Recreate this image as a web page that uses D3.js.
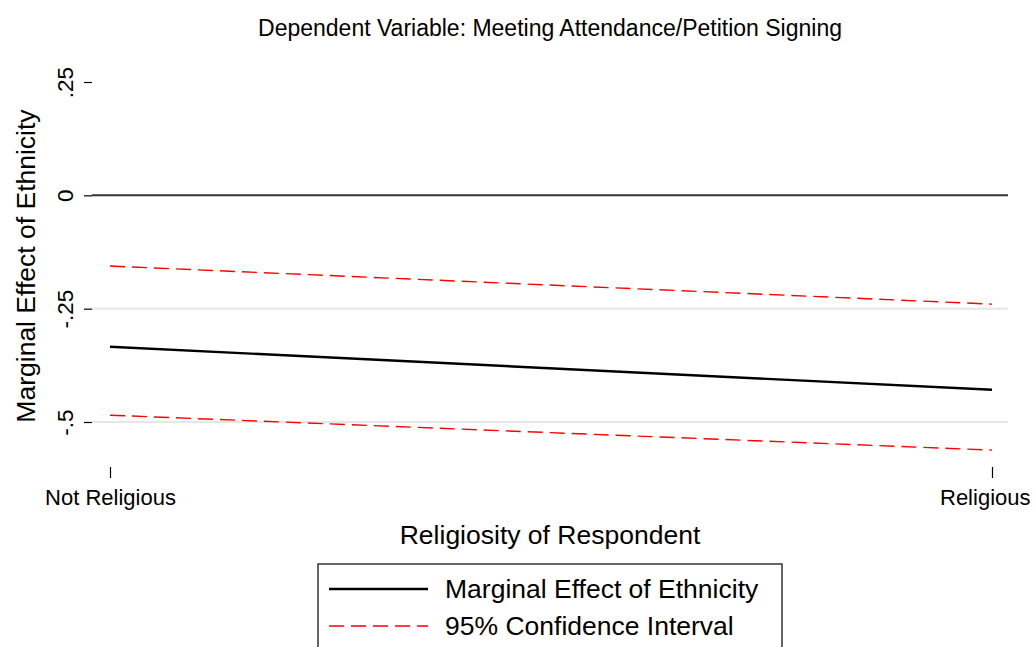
<!DOCTYPE html>
<html>
<head>
<meta charset="utf-8">
<script src="https://cdn.jsdelivr.net/npm/d3@7"></script>
<style>
html,body{margin:0;padding:0;background:#fff;}
svg{display:block;font-family:"Liberation Sans",Arial,Helvetica,sans-serif;}
</style>
</head>
<body>
<svg id="chart" width="1036" height="647"></svg>
<script>
const titleText = "Dependent Variable: Meeting Attendance/Petition Signing";
const xTitle = "Religiosity of Respondent";
const yTitle = "Marginal Effect of Ethnicity";
const categories = ["Not Religious", "Religious"];
const xValues = [0, 1];
const effect = [-0.334, -0.429];
const ciUpper = [-0.156, -0.240];
const ciLower = [-0.485, -0.562];
const yTickValues = [0.25, 0, -0.25, -0.5];
const yTickLabels = [".25", "0", "-.25", "-.5"];
const gridValues = [-0.25, -0.5];
const legendLabels = ["Marginal Effect of Ethnicity", "95% Confidence Interval"];

const svg = d3.select("#chart");
const W = 1036;
const plotLeft = 92, plotRight = 1008;
const x = d3.scaleLinear().domain([0, 1]).range([110, 992]);
const y = d3.scaleLinear().domain([-0.5, 0.25]).range([422, 82]);

// title
svg.append("text").attr("x", 550).attr("y", 36).attr("text-anchor", "middle")
  .attr("font-size", 23).attr("fill", "#000").text(titleText);

// gridlines
svg.selectAll(".grid").data(gridValues).enter().append("line")
  .attr("x1", plotLeft).attr("x2", plotRight)
  .attr("y1", d => y(d)).attr("y2", d => y(d))
  .attr("stroke", "#e6e6e6").attr("stroke-width", 2);

// zero reference line
svg.append("line").attr("x1", plotLeft).attr("x2", plotRight)
  .attr("y1", y(0)).attr("y2", y(0)).attr("stroke", "#333").attr("stroke-width", 2);

// y axis ticks
const yAxis = d3.axisLeft(y).tickValues(yTickValues).tickSize(8)
  .tickFormat((d, i) => yTickLabels[i]);
const gy = svg.append("g").attr("transform", `translate(${plotLeft},0)`).call(yAxis);
gy.select(".domain").remove();
gy.selectAll(".tick line").attr("stroke", "#000").attr("stroke-width", 1.2);
gy.selectAll(".tick text")
  .attr("font-size", 22.5).attr("font-family", "Liberation Sans, Arial, sans-serif")
  .attr("fill", "#000")
  .attr("x", null).attr("dy", null)
  .attr("text-anchor", "middle")
  .attr("transform", "translate(-19,0) rotate(-90)");

// x axis ticks
const xAxis = d3.axisBottom(x).tickValues(xValues).tickSize(11)
  .tickFormat((d, i) => categories[i]);
const gx = svg.append("g").attr("transform", "translate(0,467)").call(xAxis);
gx.select(".domain").remove();
gx.selectAll(".tick line").attr("stroke", "#000").attr("stroke-width", 1.2);
gx.selectAll(".tick text").attr("font-size", 22)
  .attr("font-family", "Liberation Sans, Arial, sans-serif")
  .attr("fill", "#000").attr("dy", null).attr("y", 38)
  .each(function (d) {
    // keep the label inside the picture, as in the reference
    const len = this.getComputedTextLength();
    const cx = x(d);
    const maxRight = W - 6;
    if (cx + len / 2 > maxRight) {
      d3.select(this).attr("x", maxRight - len / 2 - cx);
    }
  });

// axis titles
svg.append("text").attr("x", 550).attr("y", 544).attr("text-anchor", "middle")
  .attr("font-size", 26.5).attr("fill", "#000").text(xTitle);
svg.append("text").attr("transform", "translate(35,266) rotate(-90)")
  .attr("text-anchor", "middle").attr("font-size", 26.5).attr("fill", "#000").text(yTitle);

// lines
const line = d3.line().x((d, i) => x(xValues[i])).y(d => y(d));
svg.append("path").datum(ciUpper).attr("d", line).attr("fill", "none")
  .attr("stroke", "#ff0000").attr("stroke-width", 1.4).attr("stroke-dasharray", "15,7");
svg.append("path").datum(ciLower).attr("d", line).attr("fill", "none")
  .attr("stroke", "#ff0000").attr("stroke-width", 1.4).attr("stroke-dasharray", "15,7");
svg.append("path").datum(effect).attr("d", line).attr("fill", "none")
  .attr("stroke", "#000").attr("stroke-width", 2.4);

// legend
svg.append("rect").attr("x", 318).attr("y", 564).attr("width", 464).attr("height", 120)
  .attr("fill", "none").attr("stroke", "#333").attr("stroke-width", 1.5);
const lg = svg.append("g");
lg.append("line").attr("x1", 329).attr("x2", 428).attr("y1", 589).attr("y2", 589)
  .attr("stroke", "#000").attr("stroke-width", 2.4);
lg.append("line").attr("x1", 329).attr("x2", 428).attr("y1", 626).attr("y2", 626)
  .attr("stroke", "#ff0000").attr("stroke-width", 1.4).attr("stroke-dasharray", "15,7");
lg.selectAll("text").data(legendLabels).enter().append("text")
  .attr("x", 445).attr("y", (d, i) => 598 + i * 37)
  .attr("font-size", 26.5).attr("fill", "#000").text(d => d);
</script>
</body>
</html>
